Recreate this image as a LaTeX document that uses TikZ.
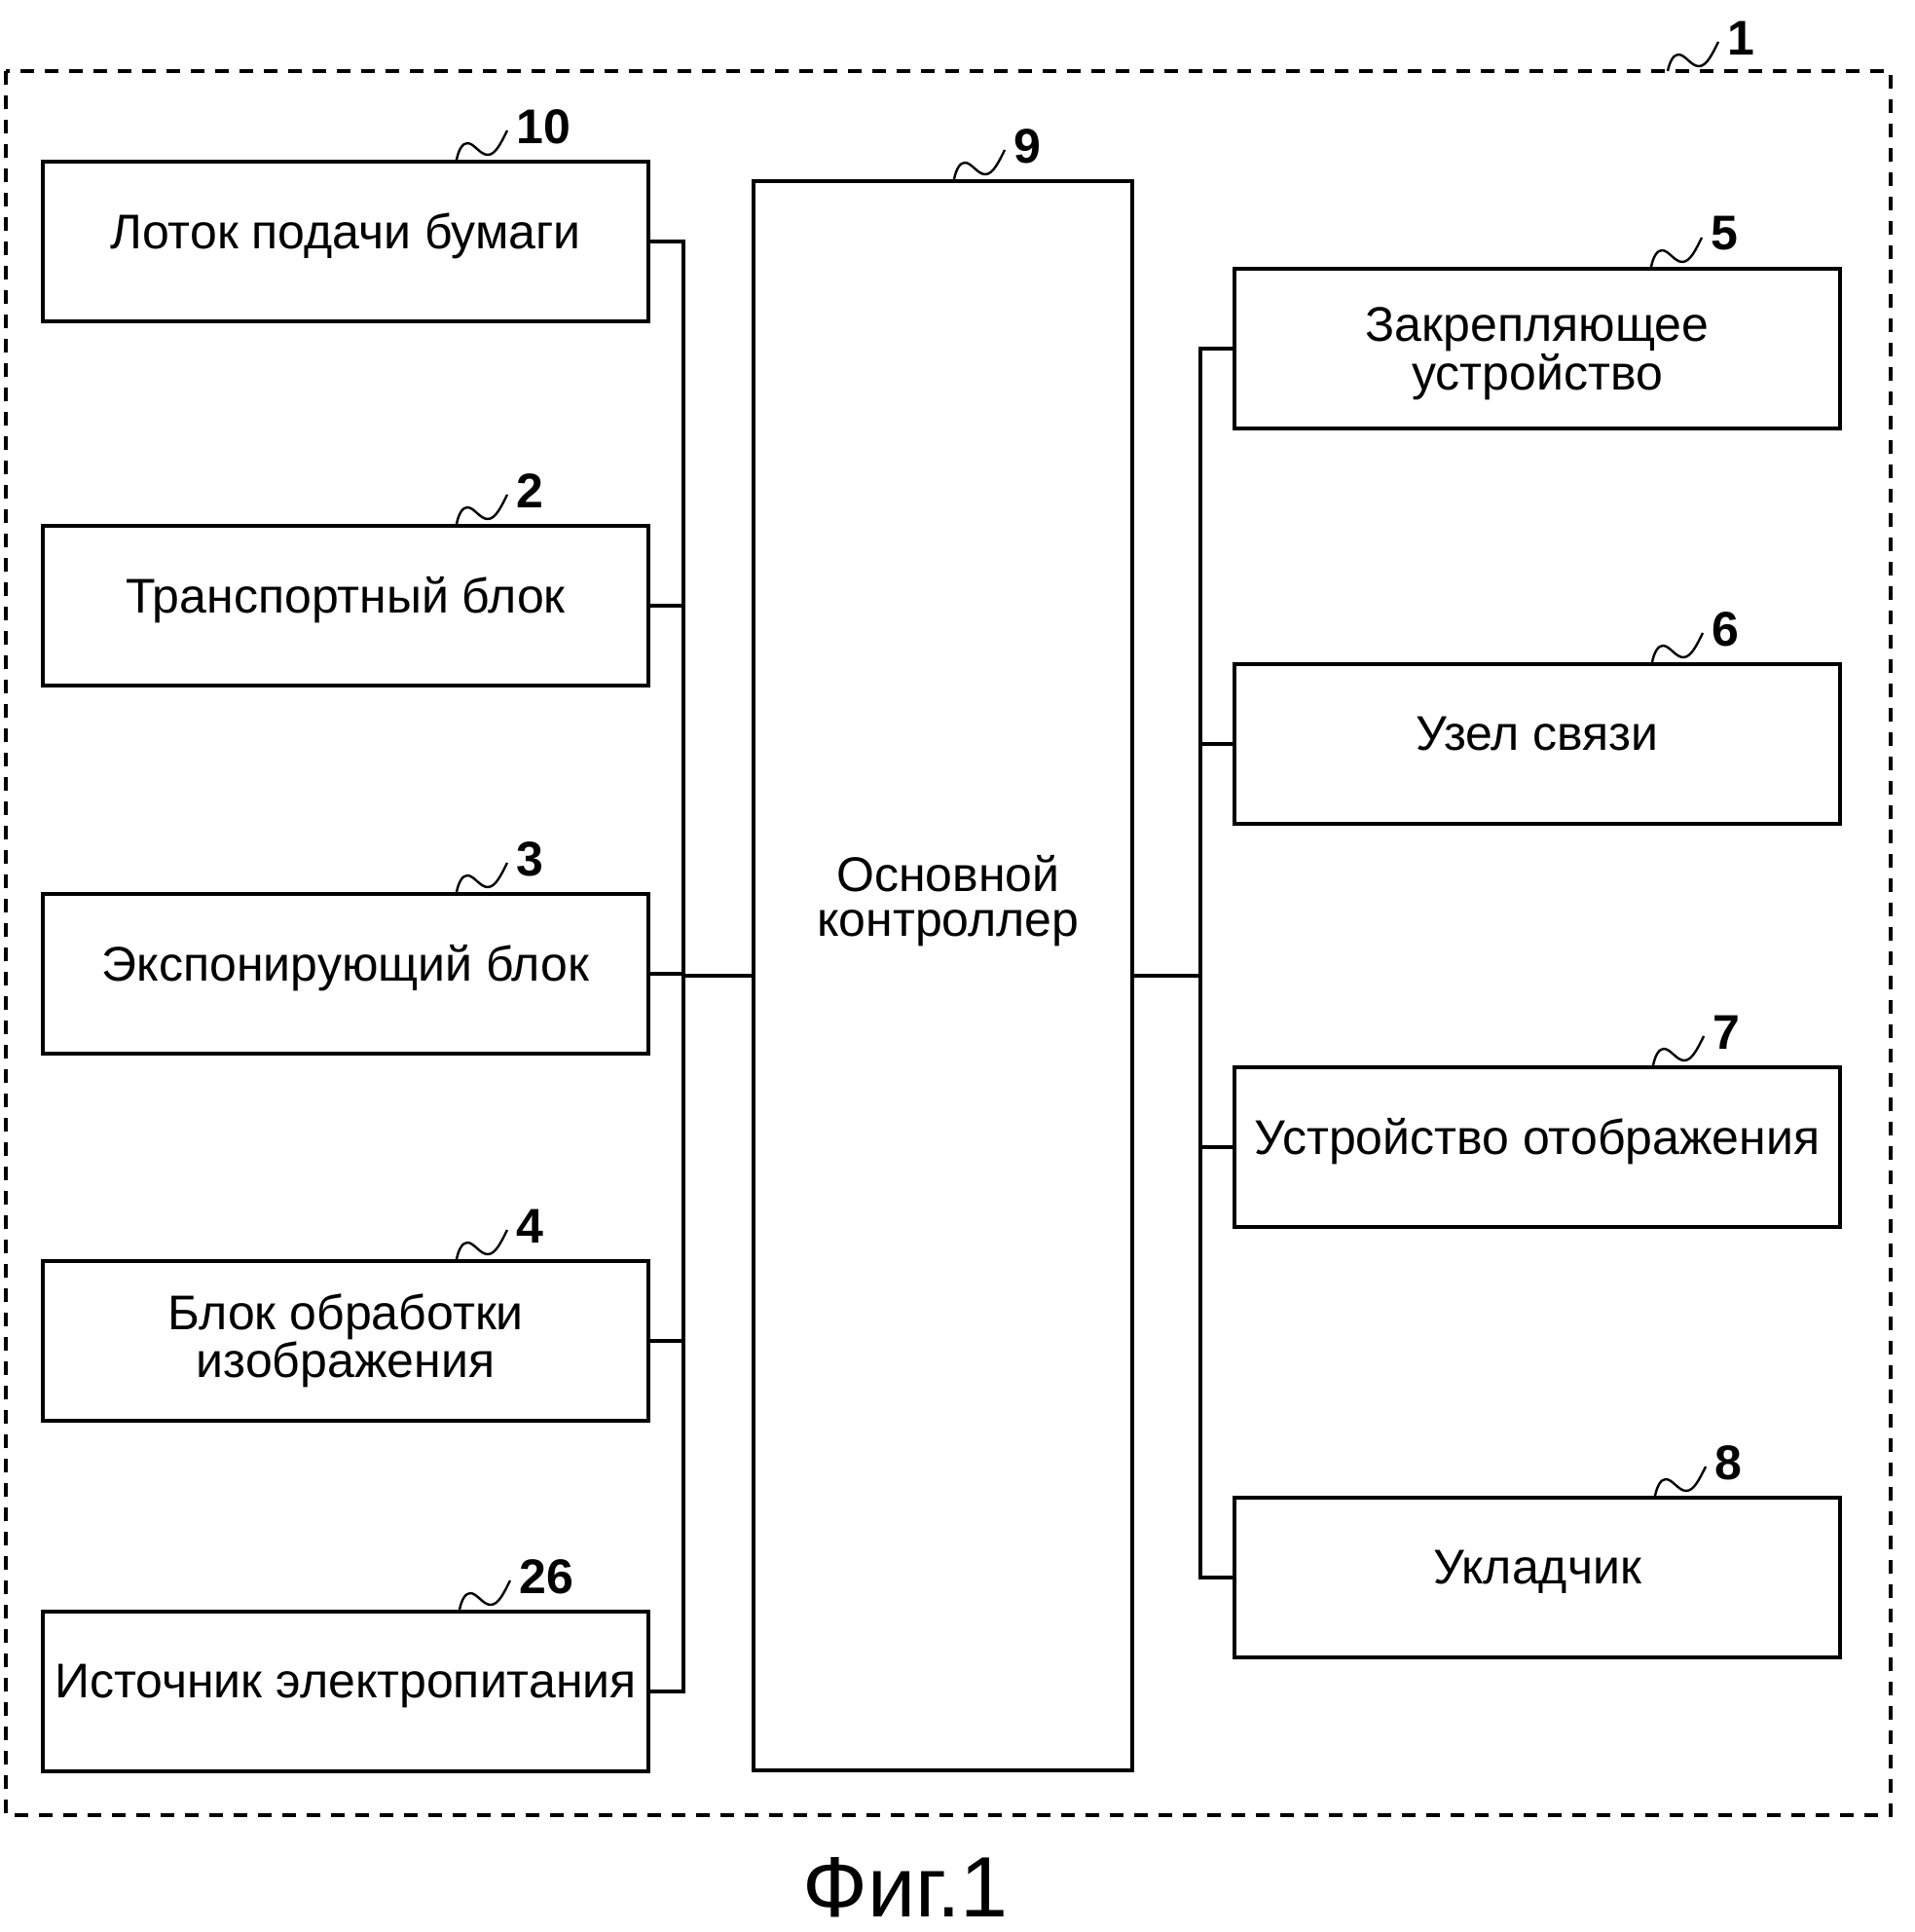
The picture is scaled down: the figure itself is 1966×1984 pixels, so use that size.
\documentclass[tikz,border=0pt]{standalone}
\usepackage{fontspec}
\setmainfont{Liberation Sans}
\usetikzlibrary{calc}

\tikzset{
  block/.style={draw, line width=2pt, minimum width=311pt, minimum height=82pt,
    align=center, inner sep=0pt, font=\fontsize{25}{23}\selectfont},
  oneline/.style={text depth=11pt},
  refnum/.style={font=\bfseries\fontsize{25}{25}\selectfont, inner sep=0pt,
    anchor=west, xshift=4pt, yshift=2pt},
  link/.style={line width=2pt},
}
\newcommand\refmark[2]{%
  \begin{scope}[shift={#1}]
    \draw[line width=1.2pt] (0,0) .. controls (2,-10) and (6,-17) .. (11,-17)
      .. controls (18,-17) and (24,-5) .. (32,-5)
      .. controls (40,-5) and (46,-18) .. (52,-30) node[refnum] (ref#2) {#2};
  \end{scope}}

\begin{document}
\begin{tikzpicture}[x=0.5pt,y=-0.5pt]
  \useasboundingbox (0,0) rectangle (1966,1984);
  \draw[line width=2pt, dash pattern=on 7pt off 5.5pt] (6,73) rectangle (1942,1864);
  \coordinate (frame) at (1713,73);
  \refmark{(frame)}{1}

  % left column
  \node[block, oneline] (feed) at (355,248) {Лоток подачи бумаги};
  \node[block, oneline] (trans) at (355,622) {Транспортный блок};
  \node[block, oneline] (expo) at (355,1000) {Экспонирующий блок};
  \node[block] (imgproc) at (355,1377) {Блок обработки\\изображения};
  \node[block, oneline] (power) at (355,1737) {Источник электропитания};

  % controller
  \node[block, minimum width=194.5pt, minimum height=816pt] (ctrl) at (968.5,1002) {};
  \node[font=\fontsize{25}{23}\selectfont, align=center] (ctrltext) at (974,925) {Основной\\контроллер};

  % right column
  \node[block, text depth=0pt] (fix) at (1579,358) {Закрепляющее\\устройство};
  \node[block, oneline] (comm) at (1579,764) {Узел связи};
  \node[block, oneline] (disp) at (1579,1178) {Устройство отображения};
  \node[block, oneline] (stack) at (1579,1620) {Укладчик};

  % buses
  \coordinate (lbus) at (702,0);
  \coordinate (rbus) at (1233,0);
  \draw[link] (feed.east) -| (lbus |- power.east) -- (power.east);
  \foreach \b in {trans,expo,imgproc}
    \draw[link] (\b.east) -- (lbus |- \b.east);
  \draw[link] (lbus |- ctrl.west) -- (ctrl.west);
  \draw[link] (fix.west) -| (rbus |- stack.west) -- (stack.west);
  \foreach \b in {comm,disp}
    \draw[link] (\b.west) -- (rbus |- \b.west);
  \draw[link] (ctrl.east) -- (rbus |- ctrl.east);

  % reference marks
  \refmark{($(feed.north west)+(427,0)$)}{10}
  \refmark{($(trans.north west)+(427,0)$)}{2}
  \refmark{($(expo.north west)+(427,0)$)}{3}
  \refmark{($(imgproc.north west)+(427,0)$)}{4}
  \refmark{($(power.north west)+(430,0)$)}{26}
  \refmark{($(ctrl.north west)+(208,0)$)}{9}
  \refmark{($(fix.north west)+(430,0)$)}{5}
  \refmark{($(comm.north west)+(431,0)$)}{6}
  \refmark{($(disp.north west)+(432,0)$)}{7}
  \refmark{($(stack.north west)+(434,0)$)}{8}

  \node[font=\fontsize{44}{44}\selectfont] (figcap) at (930,1938) {Фиг.1};
\end{tikzpicture}
\end{document}
